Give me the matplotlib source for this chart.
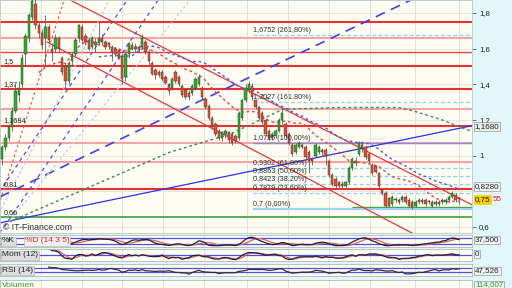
import matplotlib
matplotlib.use("Agg")
import matplotlib.pyplot as plt
import matplotlib.transforms as mtransforms
import numpy as np
import pandas as pd

plt.rcParams['font.family'] = ['Liberation Sans', 'DejaVu Sans']

# daily candles
opens = [0.98, 1.05, 1.10, 1.16, 1.25, 1.34, 1.40, 1.57, 1.66, 1.78,
         1.85, 1.73, 1.69, 1.66, 1.72, 1.60, 1.60, 1.66, 1.55, 1.50,
         1.42, 1.53, 1.57, 1.66, 1.72, 1.67, 1.65, 1.61, 1.64, 1.63,
         1.66, 1.64, 1.63, 1.61, 1.60, 1.59, 1.56, 1.44, 1.57, 1.62,
         1.60, 1.61, 1.61, 1.64, 1.58, 1.52, 1.48, 1.47, 1.47, 1.44,
         1.40, 1.38, 1.47, 1.44, 1.39, 1.37, 1.35, 1.35, 1.38, 1.40,
         1.38, 1.32, 1.28, 1.21, 1.18, 1.14, 1.10, 1.12, 1.13, 1.12,
         1.11, 1.10, 1.21, 1.31, 1.37, 1.39, 1.31, 1.27, 1.24, 1.20,
         1.14, 1.10, 1.11, 1.14, 1.20, 1.18, 1.12, 1.06, 1.02, 1.05,
         1.06, 1.05, 1.02, 0.98, 1.00, 1.02, 1.03, 1.03, 0.97, 0.89,
         0.87, 0.85, 0.84, 0.83, 0.85, 0.93, 0.97, 1.01, 1.06, 1.05,
         1.01, 0.95, 0.94, 0.90, 0.81, 0.79, 0.76, 0.73, 0.75, 0.75,
         0.75, 0.77, 0.75, 0.74, 0.72, 0.74, 0.75, 0.75, 0.74, 0.74,
         0.73, 0.74, 0.74, 0.74, 0.75, 0.77, 0.78, 0.76]
closes = [1.05, 1.10, 1.16, 1.25, 1.36, 1.38, 1.55, 1.67, 1.79, 1.87,
          1.73, 1.69, 1.62, 1.72, 1.65, 1.58, 1.66, 1.60, 1.47, 1.42,
          1.52, 1.56, 1.65, 1.73, 1.65, 1.64, 1.60, 1.66, 1.62, 1.66,
          1.64, 1.61, 1.62, 1.58, 1.57, 1.55, 1.43, 1.57, 1.63, 1.60,
          1.61, 1.59, 1.66, 1.58, 1.53, 1.46, 1.45, 1.45, 1.43, 1.41,
          1.36, 1.43, 1.42, 1.40, 1.34, 1.33, 1.33, 1.39, 1.43, 1.44,
          1.33, 1.27, 1.21, 1.16, 1.12, 1.10, 1.13, 1.14, 1.09, 1.07,
          1.08, 1.24, 1.31, 1.38, 1.40, 1.33, 1.27, 1.21, 1.19, 1.12,
          1.10, 1.12, 1.14, 1.20, 1.24, 1.11, 1.07, 1.01, 1.06, 1.07,
          1.05, 0.99, 0.97, 0.97, 1.06, 1.05, 1.02, 1.00, 0.89, 0.84,
          0.83, 0.83, 0.83, 0.85, 0.93, 0.98, 0.96, 1.07, 1.04, 0.99,
          0.97, 0.90, 0.91, 0.83, 0.79, 0.72, 0.72, 0.77, 0.75, 0.74,
          0.77, 0.74, 0.72, 0.71, 0.74, 0.75, 0.74, 0.73, 0.74, 0.72,
          0.74, 0.73, 0.75, 0.75, 0.77, 0.79, 0.75, 0.7555]
highs = [1.06, 1.12, 1.18, 1.27, 1.40, 1.42, 1.57, 1.69, 1.80, 1.90,
         1.88, 1.75, 1.71, 1.79, 1.74, 1.63, 1.68, 1.67, 1.56, 1.52,
         1.53, 1.58, 1.66, 1.74, 1.74, 1.69, 1.66, 1.67, 1.66, 1.75,
         1.68, 1.65, 1.64, 1.62, 1.61, 1.60, 1.57, 1.58, 1.64, 1.64,
         1.63, 1.62, 1.68, 1.65, 1.59, 1.53, 1.49, 1.48, 1.48, 1.45,
         1.41, 1.44, 1.48, 1.45, 1.40, 1.38, 1.37, 1.40, 1.44, 1.46,
         1.39, 1.33, 1.29, 1.22, 1.19, 1.15, 1.14, 1.15, 1.14, 1.13,
         1.12, 1.25, 1.32, 1.40, 1.42, 1.41, 1.32, 1.28, 1.25, 1.21,
         1.15, 1.13, 1.15, 1.21, 1.27, 1.19, 1.13, 1.07, 1.07, 1.08,
         1.07, 1.06, 1.03, 0.99, 1.07, 1.06, 1.04, 1.04, 0.98, 0.90,
         0.88, 0.86, 0.86, 0.86, 0.94, 0.99, 0.99, 1.08, 1.08, 1.06,
         1.02, 0.96, 0.95, 0.91, 0.82, 0.80, 0.77, 0.78, 0.77, 0.76,
         0.78, 0.78, 0.76, 0.75, 0.75, 0.76, 0.76, 0.76, 0.75, 0.75,
         0.75, 0.75, 0.76, 0.76, 0.78, 0.80, 0.79, 0.77]
lows = [0.95, 1.03, 1.08, 1.14, 1.24, 1.30, 1.38, 1.50, 1.64, 1.76,
        1.71, 1.66, 1.60, 1.51, 1.63, 1.53, 1.58, 1.58, 1.45, 1.38,
        1.40, 1.51, 1.56, 1.64, 1.63, 1.62, 1.59, 1.60, 1.58, 1.62,
        1.62, 1.60, 1.60, 1.53, 1.56, 1.54, 1.40, 1.42, 1.55, 1.59,
        1.58, 1.58, 1.60, 1.57, 1.51, 1.45, 1.43, 1.44, 1.42, 1.40,
        1.34, 1.37, 1.41, 1.39, 1.33, 1.32, 1.31, 1.34, 1.37, 1.39,
        1.32, 1.26, 1.20, 1.15, 1.11, 1.09, 1.08, 1.10, 1.07, 1.06,
        1.07, 1.09, 1.20, 1.30, 1.35, 1.31, 1.26, 1.20, 1.18, 1.11,
        1.09, 1.09, 1.10, 1.13, 1.18, 1.10, 1.06, 1.00, 1.01, 1.04,
        1.04, 0.98, 0.90, 0.95, 0.99, 1.01, 1.00, 0.95, 0.88, 0.83,
        0.82, 0.82, 0.82, 0.82, 0.84, 0.92, 0.94, 1.00, 1.02, 0.98,
        0.96, 0.89, 0.90, 0.82, 0.78, 0.71, 0.71, 0.72, 0.74, 0.73,
        0.74, 0.73, 0.71, 0.70, 0.71, 0.73, 0.73, 0.72, 0.73, 0.71,
        0.72, 0.72, 0.73, 0.73, 0.74, 0.76, 0.74, 0.73]

# long moving average (dashed green), sampled points
ma_long_x = [2.4, 50.4, 68.3, 84.2, 101.3, 119.0, 123.5, 132.0, 140.9]
ma_long_y = [0.63, 1.02, 1.12, 1.26, 1.27, 1.27, 1.25, 1.20, 1.135]

# horizontal levels
strong_red = [1.749, 1.50, 1.372, 1.1684, 0.814]
pink = [1.659, 1.259, 1.0725, 0.966]
thin_red = [1.58]
green_level = 0.657
left_labels = [(1.50, "1,5"), (1.372, "1,37"), (1.1684, "1,1684"), (0.814, "0,81"), (0.657, "0,66")]

fib_levels = [1.6752, 1.3027, 1.0725, 0.9302, 0.8863, 0.8423, 0.7879, 0.7]
fib_text = ["1,6752 (261,80%)", "1,3027 (161,80%)", "1,0725 (100,00%)", "0,9302 (61,80%)",
            "0,8863 (50,00%)", "0,8423 (38,20%)", "0,7879 (23,60%)", "0,7 (0,00%)"]
fib_start = 75.2

# trend lines: (x0, y0, x1, y1, color, style, width)
trend_lines = [
    (20.4, 1.873, 140.9, 0.724, "#e83838", "-", 0.9),
    (13.5, 1.637, 122.9, 0.566, "#e83838", "-", 0.9),
    (-0.6, 0.623, 140.9, 1.168, "#3030e0", "-", 0.9),
    (-0.6, 0.769, 122.6, 1.873, "#4040e8", (0, (6, 4)), 1.2),
    (-3.9, 0.549, 18.6, 1.873, "#e06060", (0, (2, 2)), 0.9),
    (-3.9, 0.566, 32.1, 1.873, "#c8c8f4", (0, (2, 2)), 0.9),
    (-9.0, 0.566, 37.5, 1.873, "#5050e0", (0, (3, 3)), 0.9),
    (-0.6, 0.566, 46.8, 1.873, "#5050e0", (0, (3, 3)), 0.9),
    (-0.6, 0.566, 56.4, 1.873, "#c8c8f4", (0, (2, 2)), 0.9),
]

grid_x = [11.7, 24.0, 36.0, 48.3, 60.6, 73.4, 85.7, 98.0, 110.3, 123.8, 137.0]

n = len(closes)
idx = np.arange(n)
s = pd.Series(closes)
ma_short = s.rolling(20, min_periods=12).mean()
ma_mid = s.rolling(40, min_periods=30).mean()

hi = pd.Series(highs)
lo = pd.Series(lows)
k = (100 * (s - lo.rolling(14).min()) / (hi.rolling(14).max() - lo.rolling(14).min())).rolling(3).mean()
d = k.rolling(5).mean()
mom = s - s.shift(12)
delta = s.diff()
gain = delta.clip(lower=0).rolling(14).mean()
loss = (-delta.clip(upper=0)).rolling(14).mean()
rsi = 100 - 100 / (1 + gain / loss)

bg = "#fcfcf3"
side = "#e2f7fb"
XL = (-0.6, 140.9)

fig = plt.figure(figsize=(5.12, 2.88), dpi=100, facecolor=side)
ax = fig.add_axes([0, 1 - 233 / 288, 472 / 512, 233 / 288], facecolor=bg)
ax.set_xlim(*XL)
ax.set_ylim(0.566, 1.873)

for gx in grid_x:
    ax.axvline(gx, color="#dcdcd4", lw=0.6, zorder=0)
for gy in [0.6, 0.8, 1.0, 1.2, 1.4, 1.6, 1.8]:
    ax.axhline(gy, color="#e4e4dc", lw=0.6, zorder=0)

for lv in strong_red:
    ax.axhline(lv, color="#e83030", lw=1.5, zorder=1)
for lv in pink:
    ax.axhline(lv, color="#f4a4a4", lw=1.5, zorder=1)
for lv in thin_red:
    ax.axhline(lv, color="#e84848", lw=1.0, zorder=1)
ax.axhline(green_level, color="#3ca03c", lw=1.2, zorder=1)
ax.hlines(0.712, 105.0, XL[1], color="#3ca03c", lw=1.0, zorder=2)

for lv, txt in zip(fib_levels, fib_text):
    if lv == 0.7:
        ax.hlines(lv, fib_start, XL[1], color="#9ad4f0", lw=1.6, zorder=2)
    elif lv == 1.0725:
        ax.hlines(lv, fib_start, XL[1], color="#8c8cd0", lw=1.0, zorder=2)
    else:
        ax.hlines(lv, fib_start, XL[1], color="#8ccff0", lw=0.9, linestyles=(0, (3, 2)), zorder=2)
    ax.text(fib_start, lv + 0.006, txt, fontsize=5.2, color="#333333", va="bottom", ha="left", zorder=6)

trans_l = mtransforms.blended_transform_factory(ax.transAxes, ax.transData)
for lv, txt in left_labels:
    ax.text(0.008, lv + 0.006, txt, transform=trans_l, fontsize=5.2, color="#222222", va="bottom", zorder=6)

for x0, y0, x1, y1, c, ls, w in trend_lines:
    ax.plot([x0, x1], [y0, y1], color=c, linestyle=ls, lw=w, zorder=2)

ax.plot(ma_long_x, ma_long_y, color="#3a8a5a", linestyle=(0, (2, 2)), lw=1.0, zorder=2)
ax.plot(idx, ma_mid, color="#5060d8", linestyle=(0, (2, 2)), lw=1.0, zorder=2)
ax.plot(idx, ma_short, color="#e04848", linestyle=(0, (2, 2)), lw=1.0, zorder=2)

# candles
up = np.array(closes) >= np.array(opens)
ax.vlines(idx, lows, highs, color="#606060", lw=0.6, zorder=3)
body_bot = np.minimum(opens, closes)
body_h = np.maximum(np.abs(np.array(closes) - np.array(opens)), 0.004)
ax.bar(idx, body_h, bottom=body_bot, width=0.7,
       color=np.where(up, "#2cb02c", "#e2502e"), edgecolor="#303030", lw=0.3, zorder=4)

ax.text(0.006, 0.004, "\u00a9 IT-Finance.com", transform=ax.transAxes, fontsize=6.3,
        color="#333333", va="bottom", ha="left", zorder=6)

ax.yaxis.tick_right()
ax.set_yticks([0.6, 1.0, 1.2, 1.4, 1.6, 1.8])
ax.set_yticklabels(["0,6", "1", "1,2", "1,4", "1,6", "1,8"])
ax.tick_params(axis="y", length=3, width=0.6, color="#555555", labelsize=5.6, pad=2, labelcolor="#222222")
ax.set_xticks([])
for sp in ax.spines.values():
    sp.set_color("#b8c8c8")
    sp.set_linewidth(0.6)

trans_r = mtransforms.blended_transform_factory(ax.transAxes, ax.transData)
ax.text(1.006, 1.163, "1,1680", transform=trans_r, fontsize=5.8, va="center", ha="left", color="#222222",
        bbox=dict(boxstyle="square,pad=0.12", fc="#e8eee6", ec="#9a9a9a", lw=0.5), zorder=7)
ax.text(1.006, 0.828, "0,8280", transform=trans_r, fontsize=5.8, va="center", ha="left", color="#222222",
        bbox=dict(boxstyle="square,pad=0.12", fc="#eef0f2", ec="#9a9a9a", lw=0.5), zorder=7)
ax.text(1.006, 0.7555, "0,75", transform=trans_r, fontsize=5.8, va="center", ha="left", color="#222222",
        bbox=dict(boxstyle="square,pad=0.12", fc="#f4d000", ec="#f4d000", lw=0.5), zorder=7)
ax.text(1.0445, 0.7555, "55", transform=trans_r, fontsize=5.8, va="center", ha="left", color="#e02020", zorder=7)

# indicator panels
def panel(rect, ylim):
    a = fig.add_axes(rect, facecolor=bg)
    a.set_xlim(*XL)
    a.set_ylim(*ylim)
    a.set_xticks([])
    a.set_yticks([])
    for gx in grid_x:
        a.axvline(gx, color="#dcdcd4", lw=0.6, zorder=0)
    for sp in a.spines.values():
        sp.set_color("#b0b8b8")
        sp.set_linewidth(0.6)
    return a

W = 472 / 512
axk = panel([0, 1 - 247 / 288, W, 12 / 288], (-10, 110))
for lv in [80, 20]:
    axk.axhline(lv, color="#5050e0", lw=0.9)
axk.plot(idx, d, color="#e06060", lw=0.9)
axk.plot(idx, k, color="#202040", lw=0.9)
axk.text(0.004, 0.5, "%K", transform=axk.transAxes, fontsize=6, va="center", color="#222222",
         bbox=dict(boxstyle="square,pad=0.12", fc="#dedede", ec="#aaaaaa", lw=0.4))
axk.text(0.052, 0.5, "%D (14 3 5)", transform=axk.transAxes, fontsize=6, va="center", color="#d03030",
         bbox=dict(boxstyle="square,pad=0.12", fc="#f0f0f0", ec="#aaaaaa", lw=0.4))

axm = panel([0, 1 - 261 / 288, W, 12 / 288], (-0.45, 0.45))
axm.axhline(0, color="#5050e0", lw=0.9)
axm.plot(idx, mom.rolling(3).mean(), color="#e06060", lw=0.9)
axm.plot(idx, mom, color="#202040", lw=0.9)
axm.text(0.004, 0.5, "Mom (12)", transform=axm.transAxes, fontsize=6, va="center", color="#222222",
         bbox=dict(boxstyle="square,pad=0.12", fc="#dedede", ec="#aaaaaa", lw=0.4))

axr = panel([0, 1 - 276 / 288, W, 12 / 288], (0, 100))
for lv in [70, 30]:
    axr.axhline(lv, color="#5050e0", lw=0.9)
axr.plot(idx, rsi, color="#303030", lw=0.9)
axr.text(0.004, 0.5, "RSI (14)", transform=axr.transAxes, fontsize=6, va="center", color="#222222",
         bbox=dict(boxstyle="square,pad=0.12", fc="#dedede", ec="#aaaaaa", lw=0.4))

axv = panel([0, 0, W, 8 / 288], (0, 1))
axv.text(0.004, 0.35, "Volumen", transform=axv.transAxes, fontsize=6, va="center", color="#30a030")

box = dict(boxstyle="square,pad=0.12", fc="#eef2f2", ec="#9a9a9a", lw=0.5)
fig.text(475 / 512, 1 - 240 / 288, "37,500", fontsize=5.8, va="center", ha="left", color="#222222", bbox=box)
fig.text(475 / 512, 1 - 254 / 288, "0", fontsize=5.8, va="center", ha="left", color="#222222", bbox=box)
fig.text(475 / 512, 1 - 271 / 288, "47,526", fontsize=5.8, va="center", ha="left", color="#222222", bbox=box)
fig.text(475 / 512, 1 - 285 / 288, "114,007", fontsize=5.8, va="center", ha="left", color="#30a030",
         bbox=dict(boxstyle="square,pad=0.12", fc="#eef2f2", ec="#9a9a9a", lw=0.5))

fig.savefig("out.png", dpi=100, facecolor=side)
